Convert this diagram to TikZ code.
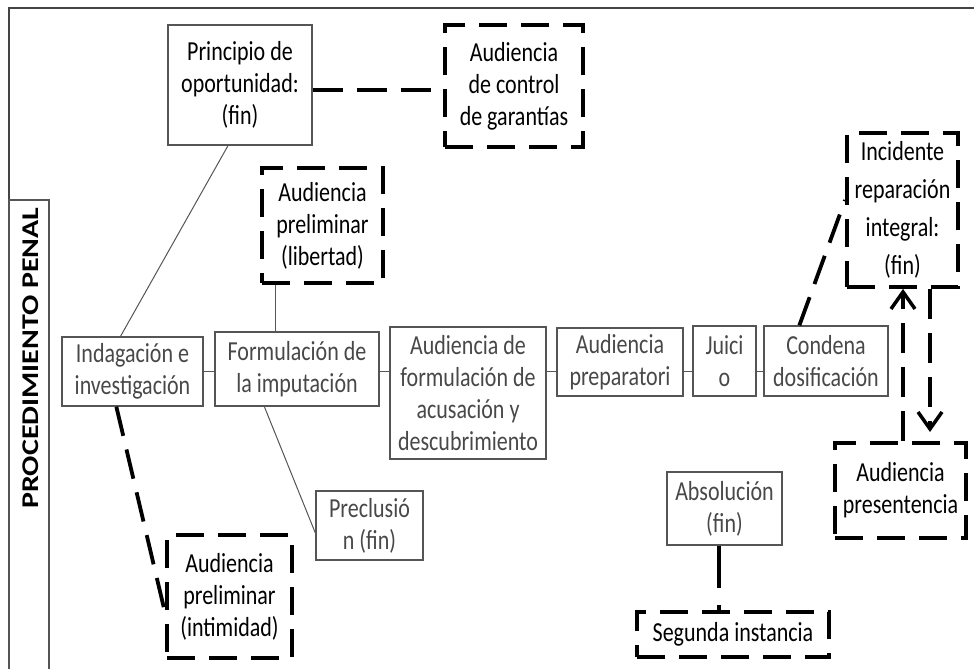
\documentclass[tikz,border=0pt]{standalone}
\usepackage{fontspec}
\setmainfont{Carlito}[FakeStretch=0.8]
\newfontfamily\rotfont{Carlito}[FakeStretch=1.25]
\usetikzlibrary{arrows.meta,calc}
\definecolor{boxgray}{HTML}{555555}
\definecolor{txtgray}{HTML}{484848}
\definecolor{framegray}{HTML}{444444}
\begin{document}
\begin{tikzpicture}[x=1pt,y=-1pt,
  every node/.style={font=\fontsize{27.5}{32}\selectfont, align=center, inner sep=0pt},
  pbox/.style={draw=boxgray, line width=1.3pt, text=txtgray},
  kbox/.style={draw=boxgray, line width=1.3pt, text=black},
  dbox/.style={draw=black, line width=3.8pt, dash pattern=on 28pt off 14pt, text=black},
  thinline/.style={draw=boxgray, line width=1pt},
  dline/.style={draw=black, line width=3.8pt, dash pattern=on 30pt off 14pt},
  tip/.style={-{Straight Barb[length=17pt,width=24pt,line width=3.5pt]}}
  ]
\useasboundingbox (0,0) rectangle (974,669);
% frame
\draw[framegray, line width=1.6pt] (9,669) -- (9,8) -- (974,8);
% side title box
\draw[boxgray, line width=1.3pt] (9,669) -- (9,200) -- (49,200) -- (49,669);
\node[rotate=90, font=\rotfont\bfseries\fontsize{24}{26}\selectfont] (title) at (31,358) {PROCEDIMIENTO PENAL};

% nodes
\node[kbox, minimum width=144, minimum height=120] (prin) at (240,85) {Principio de\\oportunidad:\\(fin)};
\node[dbox, minimum width=138, minimum height=122] (ctrl) at (514,86) {Audiencia\\de control\\de garantías};
\node[dbox, minimum width=121, minimum height=115] (lib) at (322.5,225.5) {Audiencia\\preliminar\\(libertad)};
\node[pbox, minimum width=141, minimum height=69] (inda) at (132.5,371.5) {Indagación e\\investigación};
\node[pbox, minimum width=164, minimum height=74] (form) at (297,369) {Formulación de\\la imputación};
\node[pbox, minimum width=156, minimum height=132] (acus) at (468,393) {Audiencia de\\formulación de\\acusación y\\descubrimiento};
\node[pbox, minimum width=126, minimum height=68] (prep) at (620,362) {Audiencia\\preparatori};
\node[pbox, minimum width=63, minimum height=70] (juic) at (724.5,361) {Juici\\o};
\node[pbox, minimum width=124, minimum height=70] (cond) at (826,361) {Condena\\dosificación};
\node[dbox, minimum width=111, minimum height=154, font=\fontsize{27.5}{38}\selectfont] (inci) at (902.5,210) {Incidente\\reparación\\integral:\\(fin)};
\node[dbox, minimum width=131, minimum height=95] (pres) at (900.5,490.5) {Audiencia\\presentencia};
\node[pbox, minimum width=107, minimum height=69] (prec) at (369.5,525.5) {Preclusió\\n (fin)};
\node[dbox, minimum width=125, minimum height=123] (inti) at (229.5,596.5) {Audiencia\\preliminar\\(intimidad)};
\node[pbox, minimum width=115, minimum height=73] (abso) at (724.5,508.5) {Absolución\\(fin)};
\node[dbox, minimum width=192, minimum height=45] (segu) at (733,634.5) {Segunda instancia};

% connectors
\draw[dline] (prin.east |- 0,90) -- (ctrl.west |- 0,90);
\draw[thinline] ($(prin.south)+(-12,0)$) -- ($(inda.north)+(-12,0)$);
\draw[thinline] ($(lib.south west)+(15,0)$) coordinate (lt) -- (lt |- form.north);
\draw[thinline] (inda.east |- 0,371) -- (form.west |- 0,371);
\draw[thinline] (form.east |- 0,371) -- (acus.west |- 0,371);
\draw[thinline] (acus.east |- 0,371) -- (prep.west |- 0,371);
\draw[thinline] (prep.east |- 0,371) -- (juic.west |- 0,371);
\draw[thinline] (juic.east |- 0,371) -- (cond.west |- 0,371);
\draw[thinline] ($(form.south west)+(50,0)$) -- (prec.west |- 0,533);
\draw[dline] ($(inda.south west)+(55,0)$) -- (inti.west |- 0,613);
\draw[dline] ($(cond.north west)+(36,0)$) -- (inci.west |- 0,200);
\draw[dline, tip] (pres.north -| 903,0) -- (inci.south -| 903,0);
\coordinate (dn) at (930,432);
\draw[dline, tip] (inci.south -| dn) -- (dn);
\draw[dline, dash pattern=on 42pt off 17pt] (abso.south -| 719,0) -- (segu.north -| 719,0);
\end{tikzpicture}
\end{document}
